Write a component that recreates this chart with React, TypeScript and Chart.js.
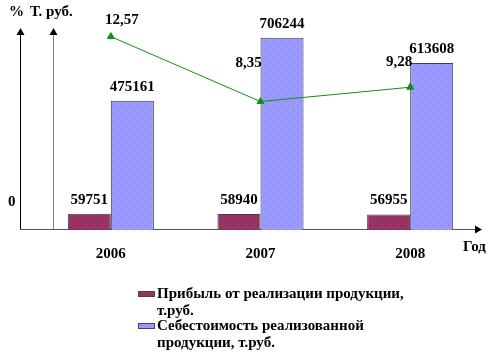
import React, { useEffect, useRef } from "react";
import { Chart, registerables } from "chart.js";

Chart.register(...registerables);

const years = ["2006", "2007", "2008"];
const profit = [59751, 58940, 56955];
const cost = [475161, 706244, 613608];
const profitability = [12.57, 8.35, 9.28];
const profitabilityLabels = ["12,57", "8,35", "9,28"];
const legendProfit = ["Прибыль от реализации продукции,", "т.руб."];
const legendCost = ["Себестоимость реализованной", "продукции, т.руб."];
const pctTitle = "%";
const rubTitle = "Т. руб.";
const xTitle = "Год";
const zeroLabel = "0";

const MAROON = "#993366";
const BLUE = "#9999ff";
const GREEN = "#109010";
const FONT = 'bold 15px "Liberation Serif"';

function makePattern(base: string, dot: string): CanvasPattern | string {
  const c = document.createElement("canvas");
  c.width = 8;
  c.height = 8;
  const g = c.getContext("2d");
  if (!g) return base;
  g.fillStyle = base;
  g.fillRect(0, 0, 8, 8);
  g.fillStyle = dot;
  g.fillRect(1, 1, 1, 1);
  g.fillRect(5, 5, 1, 1);
  const p = g.createPattern(c, "repeat");
  return p || base;
}

const lineLabelOffsets = [
  { dx: 11, dy: -16 },
  { dx: -12, dy: -38 },
  { dx: -11, dy: -25 },
];

export default function App() {
  const ref = useRef<HTMLCanvasElement | null>(null);

  useEffect(() => {
    let chart: Chart | null = null;
    let cancelled = false;

    const build = () => {
      if (cancelled || !ref.current) return;
      const maroonFill = makePattern(MAROON, "#6a2246");
      const blueFill = makePattern(BLUE, "#6f6fd8");

      const decor = {
        id: "decor",
        beforeDatasetsDraw(ch: any) {
          const { ctx, chartArea } = ch;
          const base = chartArea.bottom - 1;
          const leftX = chartArea.left - 16;
          const secondX = chartArea.left + 17;
          const tipY = chartArea.top - 2;
          ctx.save();
          const arrowUp = (x: number, color: string) => {
            ctx.strokeStyle = color;
            ctx.lineWidth = 1;
            ctx.beginPath();
            ctx.moveTo(x + 0.5, base);
            ctx.lineTo(x + 0.5, tipY + 6);
            ctx.stroke();
            ctx.fillStyle = "#000";
            ctx.beginPath();
            ctx.moveTo(x + 0.5, tipY);
            ctx.lineTo(x - 3.5, tipY + 7);
            ctx.lineTo(x + 4.5, tipY + 7);
            ctx.closePath();
            ctx.fill();
          };
          arrowUp(leftX, "#000");
          arrowUp(secondX, "#808080");
          const endX = chartArea.right - 3;
          ctx.strokeStyle = "#555";
          ctx.beginPath();
          ctx.moveTo(leftX, base + 0.5);
          ctx.lineTo(endX - 6, base + 0.5);
          ctx.stroke();
          ctx.fillStyle = "#000";
          ctx.beginPath();
          ctx.moveTo(endX, base + 0.5);
          ctx.lineTo(endX - 7, base - 3.5);
          ctx.lineTo(endX - 7, base + 4.5);
          ctx.closePath();
          ctx.fill();
          ctx.restore();
        },
        afterDatasetsDraw(ch: any) {
          const { ctx, chartArea } = ch;
          ctx.save();
          ctx.font = FONT;
          ctx.fillStyle = "#000";
          ctx.textBaseline = "middle";
          ctx.textAlign = "center";
          [0, 1].forEach((di) => {
            const meta = ch.getDatasetMeta(di);
            const vals = di === 0 ? profit : cost;
            meta.data.forEach((el: any, i: number) => {
              ctx.fillText(String(vals[i]), el.x, el.y - 14);
            });
          });
          const lm = ch.getDatasetMeta(2);
          lm.data.forEach((el: any, i: number) => {
            const o = lineLabelOffsets[i];
            ctx.fillText(profitabilityLabels[i], el.x + o.dx, el.y + o.dy);
          });
          const xs = ch.scales.x;
          years.forEach((y, i) => {
            ctx.fillText(y, xs.getPixelForValue(i), chartArea.bottom + 24);
          });
          ctx.textAlign = "left";
          ctx.fillText(pctTitle, chartArea.left - 27, chartArea.top - 18);
          ctx.fillText(rubTitle, chartArea.left - 6, chartArea.top - 18);
          ctx.fillText(xTitle, chartArea.right - 22, chartArea.bottom + 17);
          ctx.fillText(zeroLabel, chartArea.left - 28, chartArea.bottom - 28);
          const lx = chartArea.left + 102;
          const drawItem = (fill: any, lines: string[], y: number) => {
            ctx.fillStyle = fill;
            ctx.fillRect(lx, y - 3, 17, 6);
            ctx.strokeStyle = "#444";
            ctx.lineWidth = 1;
            ctx.strokeRect(lx + 0.5, y - 2.5, 16, 5);
            ctx.fillStyle = "#000";
            lines.forEach((t, k) => ctx.fillText(t, lx + 19, y + k * 17));
          };
          drawItem(maroonFill, legendProfit, chartArea.bottom + 64);
          drawItem(blueFill, legendCost, chartArea.bottom + 96);
          ctx.restore();
        },
      };

      chart = new Chart(ref.current, {
        type: "bar",
        data: {
          labels: years,
          datasets: [
            {
              type: "bar",
              label: "profit",
              data: profit,
              backgroundColor: maroonFill as any,
              borderColor: "#404040",
              borderWidth: 1,
              yAxisID: "y",
              order: 1,
            },
            {
              type: "bar",
              label: "cost",
              data: cost,
              backgroundColor: blueFill as any,
              borderColor: "#404040",
              borderWidth: 1,
              yAxisID: "y",
              order: 1,
            },
            {
              type: "line",
              label: "pct",
              data: profitability,
              borderColor: GREEN,
              backgroundColor: GREEN,
              borderWidth: 1,
              pointStyle: "triangle",
              pointRadius: 4,
              pointBackgroundColor: GREEN,
              pointBorderColor: GREEN,
              yAxisID: "y2",
              order: 0,
            },
          ],
        } as any,
        options: {
          responsive: false,
          animation: false,
          layout: { padding: { left: 36, right: 14, top: 30, bottom: 132 } },
          datasets: { bar: { categoryPercentage: 0.575, barPercentage: 1 } } as any,
          plugins: { legend: { display: false }, tooltip: { enabled: false } },
          scales: {
            x: { display: false, offset: true },
            y: { display: false, min: 0, max: 735000 },
            y2: { display: false, min: 0, max: 13, position: "right" },
          },
        },
        plugins: [decor],
      });
    };

    const fonts: any = (document as any).fonts;
    if (fonts && fonts.load) {
      fonts.load(FONT, "2006 Год").then(build, build);
    } else {
      build();
    }
    return () => {
      cancelled = true;
      if (chart) chart.destroy();
    };
  }, []);

  return (
    <div style={{ position: "fixed", left: 0, top: 0, width: 499, height: 362, background: "#fff", fontFamily: '"Liberation Serif"', fontWeight: "bold" }}>
      <canvas ref={ref} width={499} height={362} />
    </div>
  );
}
